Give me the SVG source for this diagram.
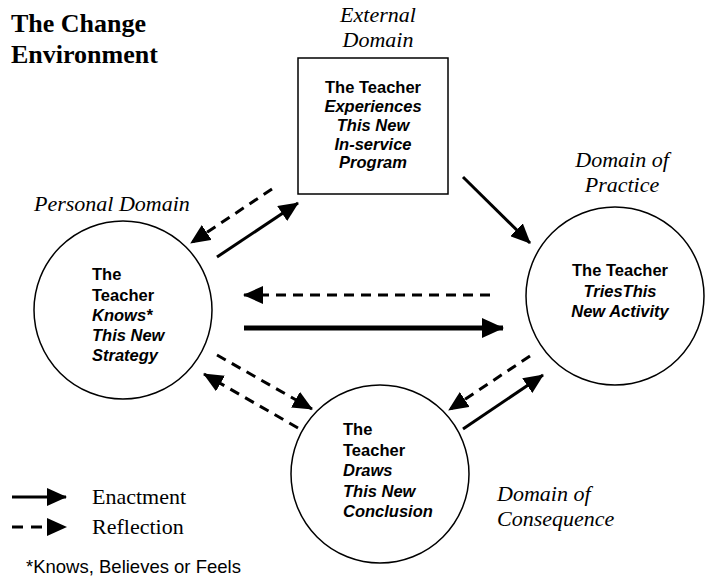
<svg xmlns="http://www.w3.org/2000/svg" width="708" height="577" viewBox="0 0 708 577">
<style>
.node{fill:#fff;stroke:#000;stroke-width:1.5}
.nt{font-family:"Liberation Sans",Arial,sans-serif;font-size:16.5px;font-weight:bold;fill:#000}
.it{font-style:italic}
.lbl{font-family:"Liberation Serif","Times New Roman",serif;font-size:22px;font-style:italic;fill:#000}
.leg{font-family:"Liberation Serif","Times New Roman",serif;font-size:22px;fill:#000}
.title{font-family:"Liberation Serif","Times New Roman",serif;font-size:26px;font-weight:bold;fill:#000}
.note{font-family:"Liberation Sans",Arial,sans-serif;font-size:18.5px;fill:#000}
.solid{stroke:#000;stroke-width:3;fill:none;marker-end:url(#ah)}
.thick{stroke:#000;stroke-width:5;fill:none;marker-end:url(#ahb)}
.dash{stroke:#000;stroke-width:3;fill:none;stroke-dasharray:10 7;marker-end:url(#ah)}
</style>
<defs>
<marker id="ah" markerUnits="userSpaceOnUse" markerWidth="20" markerHeight="18" viewBox="0 0 20 18" refX="19" refY="9" orient="auto"><path d="M0,0 L20,9 L0,18 z" fill="#000"/></marker>
<marker id="ahb" markerUnits="userSpaceOnUse" markerWidth="22" markerHeight="20" viewBox="0 0 22 20" refX="21" refY="10" orient="auto"><path d="M0,0 L22,10 L0,20 z" fill="#000"/></marker>
</defs>
<rect width="708" height="577" fill="#fff"/>
<g id="title">
<text class="title" x="11" y="32">The Change</text>
<text class="title" x="11" y="63">Environment</text>
</g>
<g id="labels">
<text class="lbl" x="378" y="22" text-anchor="middle">External</text>
<text class="lbl" x="378" y="47" text-anchor="middle">Domain</text>
<text class="lbl" x="34" y="211">Personal Domain</text>
<text class="lbl" x="622" y="167" text-anchor="middle">Domain of</text>
<text class="lbl" x="622" y="192" text-anchor="middle">Practice</text>
<text class="lbl" x="497" y="501">Domain of</text>
<text class="lbl" x="497" y="526">Consequence</text>
</g>
<g id="external">
<rect class="node" x="298" y="58" width="150" height="136"/>
<text class="nt" text-anchor="middle" x="373" y="93">The Teacher</text>
<text class="nt it" text-anchor="middle" x="373" y="112">Experiences</text>
<text class="nt it" text-anchor="middle" x="373" y="131">This New</text>
<text class="nt it" text-anchor="middle" x="373" y="150">In-service</text>
<text class="nt it" text-anchor="middle" x="373" y="168">Program</text>
</g>
<g id="personal">
<circle class="node" cx="123" cy="310" r="89"/>
<text class="nt" x="92" y="280">The</text>
<text class="nt" x="92" y="301">Teacher</text>
<text class="nt it" x="92" y="321">Knows*</text>
<text class="nt it" x="92" y="341">This New</text>
<text class="nt it" x="92" y="361">Strategy</text>
</g>
<g id="practice">
<circle class="node" cx="615" cy="296" r="89"/>
<text class="nt" text-anchor="middle" x="620" y="276">The Teacher</text>
<text class="nt it" text-anchor="middle" x="620" y="297">TriesThis</text>
<text class="nt it" text-anchor="middle" x="620" y="317">New Activity</text>
</g>
<g id="consequence">
<circle class="node" cx="380" cy="474" r="89"/>
<text class="nt" x="343" y="435">The</text>
<text class="nt" x="343" y="456">Teacher</text>
<text class="nt it" x="343" y="476">Draws</text>
<text class="nt it" x="343" y="497">This New</text>
<text class="nt it" x="343" y="517">Conclusion</text>
</g>
<g id="connectors">
<line class="dash" x1="272" y1="189" x2="191" y2="243"/>
<line class="solid" x1="217" y1="257" x2="298" y2="203"/>
<line class="solid" x1="463" y1="177" x2="530" y2="243"/>
<line class="dash" x1="490" y1="295" x2="244" y2="295"/>
<line class="thick" x1="244" y1="328" x2="503" y2="328"/>
<line class="dash" x1="217" y1="355" x2="312" y2="409"/>
<line class="dash" x1="298" y1="428" x2="204" y2="374"/>
<line class="dash" x1="530" y1="356" x2="449" y2="410"/>
<line class="solid" x1="463" y1="429" x2="543" y2="375"/>
</g>
<g id="legend">
<line class="solid" x1="12" y1="497" x2="66" y2="497"/>
<line class="dash" x1="12" y1="527" x2="66" y2="527" style="stroke-dasharray:11 8"/>
<text class="leg" x="92" y="504">Enactment</text>
<text class="leg" x="92" y="534">Reflection</text>
<text class="note" x="26" y="573">*Knows, Believes or Feels</text>
</g>
</svg>
